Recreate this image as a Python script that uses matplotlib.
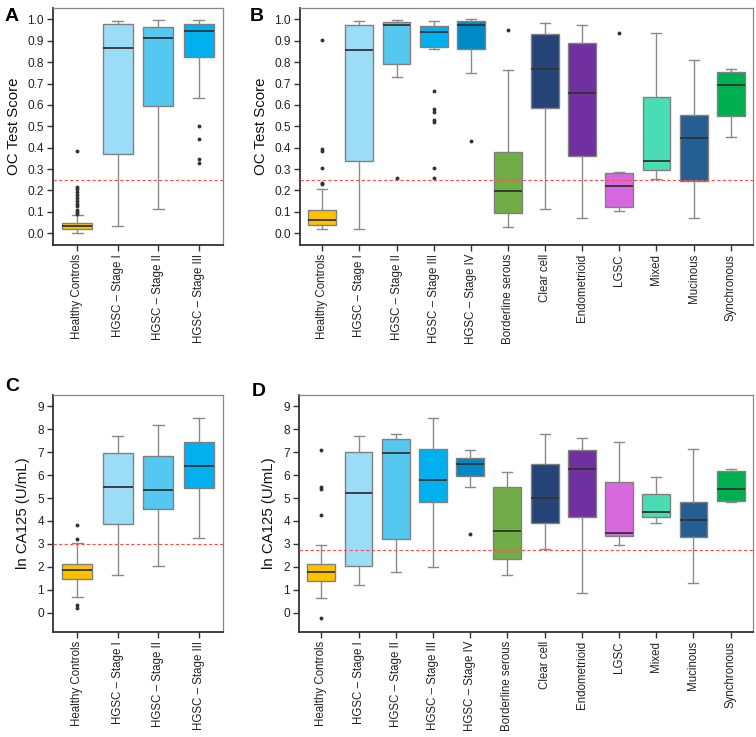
import numpy as np
import matplotlib
matplotlib.use("Agg")
from matplotlib import pyplot as plt

plt.rcParams['font.family'] = ['Liberation Sans', 'DejaVu Sans']

# group names
stage_groups = ["Healthy Controls", "HGSC \u2013 Stage I", "HGSC \u2013 Stage II", "HGSC \u2013 Stage III"]
all_groups = ["Healthy Controls", "HGSC \u2013 Stage I", "HGSC \u2013 Stage II", "HGSC \u2013 Stage III",
              "HGSC \u2013 Stage IV", "Borderline serous", "Clear cell", "Endometrioid", "LGSC",
              "Mixed", "Mucinous", "Synchronous"]

group_colors = ["#FFC000", "#9BDDF7", "#55C8F2", "#00B0EF", "#0089C7", "#70AD47",
                "#264478", "#7030A0", "#D768DF", "#4ADDB4", "#255E91", "#00B050"]

# Panel A - OC test score by stage
a_med = [0.034, 0.865, 0.914, 0.947]
a_q1 = [0.022, 0.371, 0.596, 0.823]
a_q3 = [0.050, 0.977, 0.966, 0.980]
a_lo = [0.003, 0.036, 0.115, 0.630]
a_hi = [0.084, 0.994, 0.997, 0.997]
a_out = [[0.385, 0.215, 0.205, 0.195, 0.180, 0.165, 0.150, 0.135, 0.125, 0.110, 0.100, 0.090],
         [], [], [0.50, 0.44, 0.345, 0.33]]

# Panel B - OC test score by subtype
b_med = [0.061, 0.857, 0.972, 0.943, 0.975, 0.197, 0.767, 0.657, 0.222, 0.339, 0.447, 0.691]
b_q1 = [0.040, 0.339, 0.792, 0.870, 0.860, 0.096, 0.587, 0.360, 0.124, 0.297, 0.242, 0.548]
b_q3 = [0.109, 0.974, 0.989, 0.970, 0.994, 0.380, 0.933, 0.888, 0.283, 0.638, 0.553, 0.755]
b_lo = [0.019, 0.019, 0.730, 0.862, 0.748, 0.030, 0.113, 0.073, 0.104, 0.255, 0.073, 0.450]
b_hi = [0.208, 0.994, 0.997, 0.994, 1.000, 0.761, 0.981, 0.972, 0.287, 0.938, 0.809, 0.770]
b_out = [[0.905, 0.395, 0.385, 0.305, 0.237, 0.228], [], [0.26],
         [0.666, 0.582, 0.567, 0.528, 0.520, 0.306, 0.26], [0.433],
         [0.95], [], [], [0.935], [], [], []]

# Panel C - ln CA125 by stage
c_med = [1.86, 5.48, 5.37, 6.42]
c_q1 = [1.46, 3.87, 4.51, 5.45]
c_q3 = [2.14, 6.96, 6.84, 7.44]
c_lo = [0.70, 1.62, 2.05, 3.25]
c_hi = [3.03, 7.70, 8.20, 8.48]
c_out = [[3.83, 3.23, 0.34, 0.18], [], [], []]

# Panel D - ln CA125 by subtype
d_med = [1.76, 5.23, 6.95, 5.77, 6.49, 3.57, 5.01, 6.29, 3.47, 4.38, 4.03, 5.40]
d_q1 = [1.37, 2.02, 3.19, 4.83, 5.96, 2.33, 3.93, 4.19, 3.35, 4.17, 3.28, 4.86]
d_q3 = [2.11, 7.00, 7.56, 7.15, 6.74, 5.48, 6.47, 7.09, 5.68, 5.17, 4.82, 6.16]
d_lo = [0.64, 1.19, 1.76, 2.01, 5.49, 1.63, 2.77, 0.85, 2.94, 3.92, 1.27, 4.82]
d_hi = [2.93, 7.69, 7.79, 8.49, 7.11, 6.13, 7.79, 7.62, 7.46, 5.94, 7.14, 6.29]
d_out = [[7.11, 5.48, 5.40, 4.24, -0.22], [], [], [], [3.42],
         [], [], [], [], [], [], []]

cutoffs = [0.25, 0.25, 3.0, 2.74]


def draw_panel(ax, labels, med, q1, q3, lo, hi, out, cutoff, ylim, yticks, fmt, ylabel):
    stats = []
    for i in range(len(labels)):
        stats.append({"med": med[i], "q1": q1[i], "q3": q3[i],
                      "whislo": lo[i], "whishi": hi[i], "fliers": out[i]})
    pos = np.arange(1, len(labels) + 1)
    res = ax.bxp(stats, positions=pos, widths=0.75, capwidths=0.27, patch_artist=True,
                 boxprops=dict(edgecolor="#808080", linewidth=1.0),
                 whiskerprops=dict(color="#8a8a8a", linewidth=1.0),
                 capprops=dict(color="#8a8a8a", linewidth=1.0),
                 medianprops=dict(color="#333333", linewidth=1.3),
                 flierprops=dict(marker="o", markersize=2.8, markerfacecolor="#333333",
                                 markeredgewidth=0, linestyle="none"),
                 manage_ticks=False, zorder=2)
    for patch, col in zip(res["boxes"], group_colors):
        patch.set_facecolor(col)
    ax.axhline(cutoff, color="#FF5050", linestyle=(0, (3, 2)), linewidth=0.8, zorder=3)
    ax.set_xlim(0.4, len(labels) + 0.6)
    ax.set_ylim(*ylim)
    ax.set_yticks(yticks)
    ax.set_yticklabels([fmt % v for v in yticks], fontsize=8.6, color="#222222")
    ax.set_xticks(pos)
    ax.set_xticklabels(labels, rotation=90, fontsize=8.3, color="#222222")
    ax.set_ylabel(ylabel, fontsize=10.8, color="#111111", labelpad=5)
    for side in ["left", "bottom"]:
        ax.spines[side].set_color("#333333")
        ax.spines[side].set_linewidth(1.3)
    for side in ["top", "right"]:
        ax.spines[side].set_color("#888888")
        ax.spines[side].set_linewidth(0.9)
    ax.tick_params(axis="both", direction="out", length=4.5, width=1.0, color="#333333", pad=2)


fig = plt.figure(figsize=(7.56, 7.37), dpi=100)
W, H = 756.0, 737.0
ax_a = fig.add_axes([53 / W, 1 - 245 / H, 170 / W, 237 / H])
ax_b = fig.add_axes([300 / W, 1 - 245 / H, 453 / W, 237 / H])
ax_c = fig.add_axes([53 / W, 1 - 632 / H, 170 / W, 237 / H])
ax_d = fig.add_axes([299 / W, 1 - 632 / H, 454 / W, 237 / H])

oc_ticks = np.round(np.arange(0, 1.01, 0.1), 1)
ca_ticks = np.arange(0, 10)

draw_panel(ax_a, stage_groups, a_med, a_q1, a_q3, a_lo, a_hi, a_out, cutoffs[0],
           (-0.055, 1.053), oc_ticks, "%.1f", "OC Test Score")
draw_panel(ax_b, all_groups, b_med, b_q1, b_q3, b_lo, b_hi, b_out, cutoffs[1],
           (-0.055, 1.053), oc_ticks, "%.1f", "OC Test Score")
draw_panel(ax_c, stage_groups, c_med, c_q1, c_q3, c_lo, c_hi, c_out, cutoffs[2],
           (-0.85, 9.5), ca_ticks, "%d", "ln CA125 (U/mL)")
draw_panel(ax_d, all_groups, d_med, d_q1, d_q3, d_lo, d_hi, d_out, cutoffs[3],
           (-0.85, 9.5), ca_ticks, "%d", "ln CA125 (U/mL)")

# panel letters
for letter, x, y in [("A", 5, 8), ("B", 250, 8), ("C", 5, 378), ("D", 252, 383)]:
    fig.text(x / W, 1 - y / H, letter, fontsize=14, fontweight="bold", va="top", ha="left")

fig.savefig("out.png", dpi=100)
